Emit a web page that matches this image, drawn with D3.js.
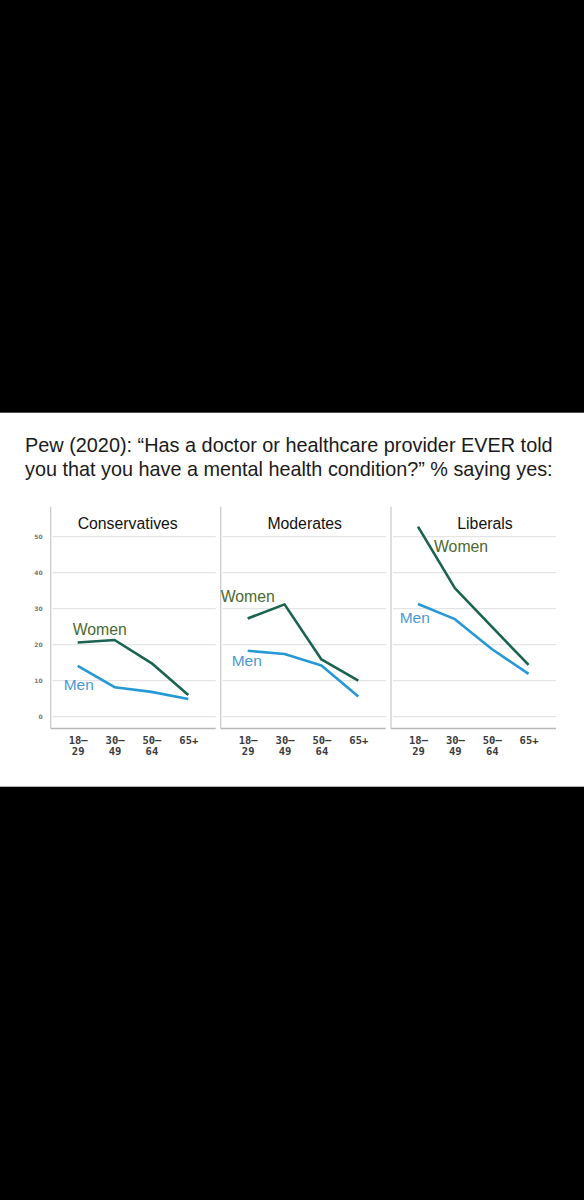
<!DOCTYPE html>
<html>
<head>
<meta charset="utf-8">
<script src="https://cdn.jsdelivr.net/npm/d3@7"></script>
<style>
  body { margin: 0; background: #000; }
  svg { display: block; }
</style>
</head>
<body>
<svg id="chart"></svg>
<script>
// values (% saying yes)
const titleLines = [
  "Pew (2020): \u201cHas a doctor or healthcare provider EVER told",
  "you that you have a mental health condition?\u201d % saying yes:"
];
const ages = ["18\u201329", "30\u201349", "50\u201364", "65+"];
const ageLabels = [["18\u2013", "29"], ["30\u2013", "49"], ["50\u2013", "64"], ["65+", ""]];
const groups = ["Conservatives", "Moderates", "Liberals"];
const yTicks = [0, 10, 20, 30, 40, 50];

const womenCons = [20.6, 21.3, 14.9, 6.0];
const menCons = [14.1, 8.2, 6.9, 4.9];
const womenMod = [27.3, 31.2, 15.9, 10.0];
const menMod = [18.3, 17.4, 14.2, 5.6];
const womenLib = [52.8, 35.7, 25.0, 14.4];
const menLib = [31.3, 27.1, 18.8, 11.9];

const women = [womenCons, womenMod, womenLib];
const men = [menCons, menMod, menLib];

// layout
const W = 584, H = 1200;
const panelLeft = [50.7, 220.7, 391];
const panelW = 165;
const titleOff = [77, 84, 94];
// series label anchors: [x offset in panel, y value]
const womenLab = [[22, 22.7], [0, 31.9], [43, 45.8]];
const menLab = [[13, 7.4], [11, 14.1], [8.7, 26.1]];

const colWomen = '#1a6350', colMen = '#2499d6';
const colWomenTxt = '#4b6a2f', colMenTxt = '#4a9ad6';

const svg = d3.select('#chart').attr('width', W).attr('height', H);
svg.append('rect').attr('width', W).attr('height', H).attr('fill', '#000');
svg.append('rect').attr('x', 0).attr('y', 412.7).attr('width', W).attr('height', 374).attr('fill', '#fff');

// title, each line stretched to the same width as the picture
const title = svg.append('g').attr('font-family', 'Liberation Sans, Arial, sans-serif').attr('fill', '#1a1a1a');
titleLines.forEach((t, i) => {
  const tx = title.append('text').attr('x', 25).attr('y', 452 + i * 24).attr('font-size', 19).text(t);
  let len = tx.node().getComputedTextLength();
  tx.attr('font-size', 19 * 528 / len);
});

const y = d3.scaleLinear().domain([0, 50]).range([716.7, 536.7]);

groups.forEach((g, p) => {
  let x0 = panelLeft[p];
  const x = d3.scalePoint().domain(ages).range([x0 + 27, x0 + 137.6]);
  const pg = svg.append('g');

  // gridlines
  pg.append('g').selectAll('line').data(yTicks).enter().append('line')
    .attr('x1', x0 + 2).attr('x2', x0 + panelW)
    .attr('y1', d => y(d)).attr('y2', d => y(d))
    .attr('stroke', '#dedede').attr('stroke-width', 1);

  // frame
  pg.append('line').attr('x1', x0).attr('x2', x0)
    .attr('y1', y(58.3)).attr('y2', y(-3.3))
    .attr('stroke', '#c8c8c8').attr('stroke-width', 1.2);
  pg.append('line').attr('x1', x0).attr('x2', x0 + panelW)
    .attr('y1', y(-3.3)).attr('y2', y(-3.3))
    .attr('stroke', '#b8b8b8').attr('stroke-width', 1.5);

  if (p == 0) {
    const yAxis = d3.axisLeft(y).tickValues(yTicks).tickSize(0).tickPadding(8);
    const ya = pg.append('g').attr('transform', 'translate(' + x0 + ',0)').call(yAxis);
    ya.select('.domain').remove();
    ya.selectAll('text').attr('font-family', 'DejaVu Sans, sans-serif')
      .attr('font-size', 6).attr('font-weight', 'bold').attr('fill', '#777');
  }

  // x axis labels, two lines each
  const xAxis = d3.axisBottom(x).tickSize(0).tickFormat('');
  const xa = pg.append('g').attr('transform', 'translate(0,' + y(-3.3) + ')').call(xAxis);
  xa.select('.domain').remove();
  xa.selectAll('.tick').append('text')
    .attr('font-family', 'DejaVu Sans Mono, monospace').attr('font-size', 10.5)
    .attr('font-weight', 'bold').attr('fill', '#3a3a3a').attr('text-anchor', 'middle')
    .selectAll('tspan').data((d, i) => ageLabels[ages.indexOf(d)]).enter().append('tspan')
    .attr('x', 0).attr('y', (d, i) => 15.6 + i * 11).text(d => d);

  // panel title
  pg.append('text').attr('x', x0 + titleOff[p]).attr('y', 528.5)
    .attr('text-anchor', 'middle').attr('font-family', 'Liberation Sans, Arial, sans-serif')
    .attr('font-size', 15.8).attr('fill', '#111').text(g);

  const line = d3.line().x((d, i) => x(ages[i])).y(d => y(d));
  pg.append('path').datum(men[p]).attr('d', line).attr('fill', 'none')
    .attr('stroke', colMen).attr('stroke-width', 2.6).attr('stroke-linejoin', 'round');
  pg.append('path').datum(women[p]).attr('d', line).attr('fill', 'none')
    .attr('stroke', colWomen).attr('stroke-width', 2.6).attr('stroke-linejoin', 'round');

  pg.append('text').attr('x', x0 + womenLab[p][0]).attr('y', y(womenLab[p][1]))
    .attr('font-family', 'Liberation Sans, Arial, sans-serif').attr('font-size', 15.8)
    .attr('fill', colWomenTxt).text('Women');
  pg.append('text').attr('x', x0 + menLab[p][0]).attr('y', y(menLab[p][1]))
    .attr('font-family', 'Liberation Sans, Arial, sans-serif').attr('font-size', 15.5)
    .attr('fill', colMenTxt).text('Men');
});
</script>
</body>
</html>
